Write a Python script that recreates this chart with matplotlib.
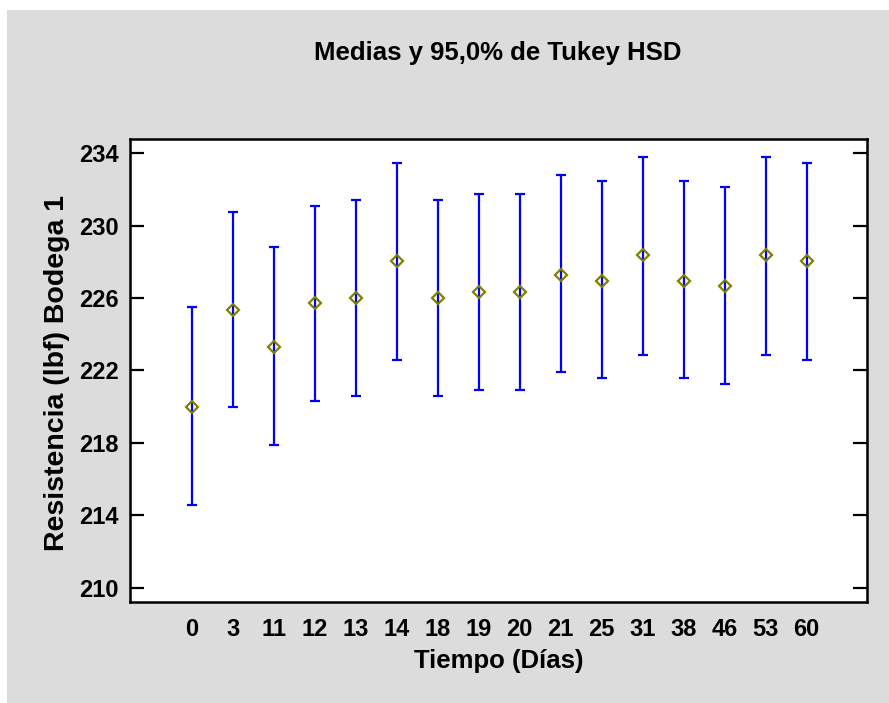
import matplotlib
matplotlib.use("Agg")
import matplotlib.pyplot as plt
import matplotlib.patches as patches
import numpy as np

# data
dias   = ['0', '3', '11', '12', '13', '14', '18', '19', '20', '21', '25', '31', '38', '46', '53', '60']
medias = [220.0, 225.36, 223.3, 225.71, 226.0, 228.06, 226.0, 226.33, 226.33, 227.3,
          226.97, 228.39, 226.97, 226.66, 228.39, 228.06]
lim_inf = [214.56, 219.97, 217.91, 220.3, 220.61, 222.56, 220.61, 220.93, 220.93, 221.9,
           221.57, 222.87, 221.57, 221.26, 222.87, 222.56]
lim_sup = [225.48, 230.78, 228.81, 231.09, 231.41, 233.46, 231.41, 231.74, 231.74, 232.82,
           232.49, 233.8, 232.49, 232.16, 233.8, 233.46]
yticks = [210, 214, 218, 222, 226, 230, 234]

plt.rcParams['font.family'] = ['Liberation Sans', 'DejaVu Sans']
plt.rcParams['font.weight'] = 'bold'

fig = plt.figure(figsize=(8.89, 7.03), dpi=100)
fig.patch.set_facecolor('white')
bg = patches.Rectangle((7/889., 0), 1 - 7/889., 1 - 10/703., transform=fig.transFigure,
                       facecolor='#dcdcdc', edgecolor='none', zorder=-10)
fig.patches.append(bg)

ax = fig.add_axes([130/889., (703-601.7)/703., (867-130)/889., (601.7-139.3)/703.])
ax.set_facecolor('white')

x = np.arange(len(dias))
m = np.array(medias)
lo = m - np.array(lim_inf)
hi = np.array(lim_sup) - m

ax.errorbar(x, m, yerr=[lo, hi], fmt='none', ecolor='#0000ff', elinewidth=1.6,
            capsize=3.3, capthick=1.6, zorder=2)
ax.plot(x, m, 'D', markersize=6.6, markerfacecolor='none', markeredgecolor='#808000',
        markeredgewidth=1.6, zorder=3)

ax.set_xlim(-1.505, 16.47)
ax.set_ylim(209.23, 234.77)
ax.set_yticks(yticks)
ax.set_xticks(x)
ax.set_xticklabels(dias)

for s in ax.spines.values():
    s.set_linewidth(1.8)

ax.tick_params(axis='y', direction='in', length=10, width=1.6, right=True, labelsize=17, pad=8)
ax.tick_params(axis='x', length=0, labelsize=17, pad=12)

# axis titles and chart title placed in figure pixels
fig.text(499/889., 1 - 661/703., 'Tiempo (Días)', ha='center', va='center',
         fontsize=18.5, fontweight='bold')
fig.text(57/889., 1 - 373/703., 'Resistencia (lbf) Bodega 1', ha='center', va='center',
         rotation=90, fontsize=20.5, fontweight='bold')
fig.text(498/889., 1 - 60/703., 'Medias y 95,0% de Tukey HSD', ha='center', va='baseline',
         fontsize=18.5, fontweight='bold')

fig.savefig('out.png', dpi=100, facecolor=fig.get_facecolor())
